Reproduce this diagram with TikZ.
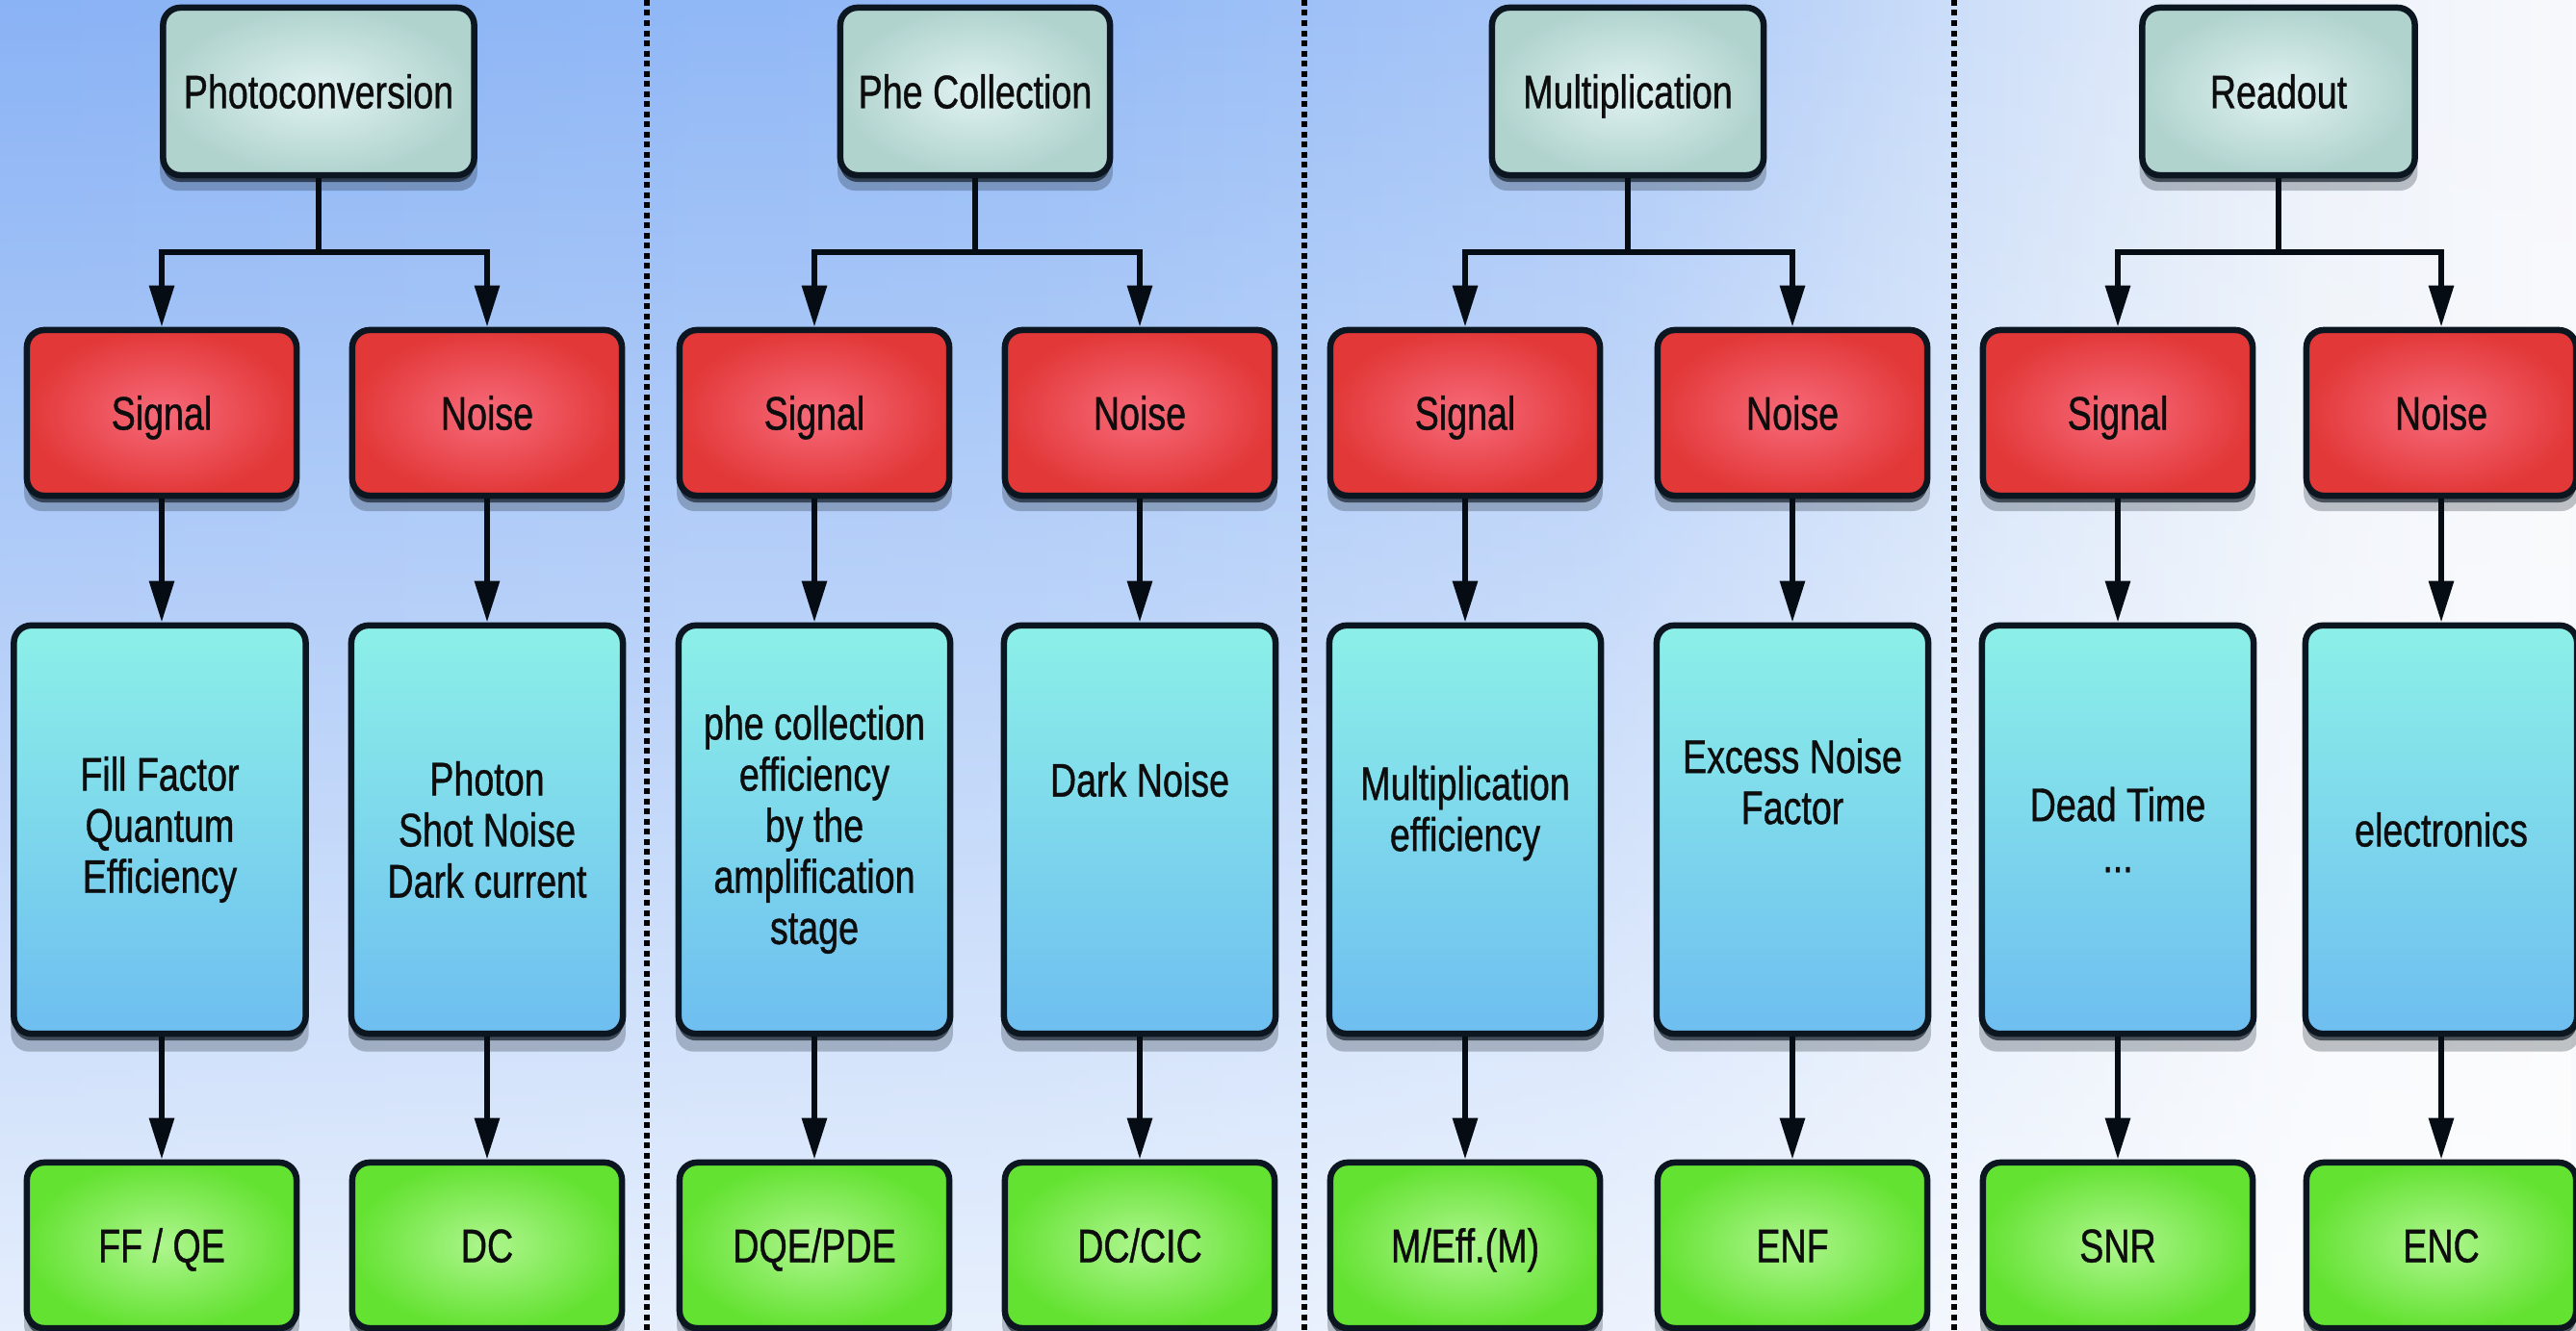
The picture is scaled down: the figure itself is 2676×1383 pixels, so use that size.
\documentclass[tikz,border=0pt]{standalone}
\usepackage{fontspec}
\newfontfamily\boxfont[FakeStretch=0.77,FakeBold=0.8]{Liberation Sans}
\usetikzlibrary{arrows.meta,shadows,fadings}
\definecolor{topin}{RGB}{224,242,242}
\definecolor{topout}{RGB}{176,211,206}
\definecolor{redin}{RGB}{247,106,122}
\definecolor{redout}{RGB}{226,56,56}
\definecolor{bluetop}{RGB}{140,240,232}
\definecolor{bluebot}{RGB}{110,190,240}
\definecolor{greenin}{RGB}{174,246,142}
\definecolor{greenout}{RGB}{100,226,50}
\definecolor{boxline}{RGB}{12,22,32}
\definecolor{linecol}{RGB}{5,12,20}
\pgfdeclarehorizontalshading{bgshade}{100bp}{rgb(0bp)=(0.54,0.70,0.96); rgb(25bp)=(0.54,0.70,0.96); rgb(45bp)=(0.58,0.73,0.965); rgb(56bp)=(0.66,0.78,0.97); rgb(63bp)=(0.80,0.87,0.975); rgb(70bp)=(0.93,0.95,0.98); rgb(75bp)=(0.97,0.975,0.99); rgb(100bp)=(0.97,0.975,0.99)}
\tikzfading[name=bgfade, top color=transparent!100, middle color=transparent!72, bottom color=transparent!22]
\begin{document}
\begin{tikzpicture}[x=0.01cm,y=-0.01cm,
  box/.style={rounded corners=0.18cm, draw=boxline, line width=0.065cm, inner sep=0pt, align=center,
    font=\boxfont\fontsize{13.9pt}{15.1pt}\selectfont, text=black!95,
    drop shadow={shadow xshift=0cm, shadow yshift=-0.14cm, shadow scale=1.02, opacity=0.25, fill=boxline},
    drop shadow={shadow xshift=0cm, shadow yshift=-0.07cm, opacity=0.65, fill=boxline}},
  one/.style={text height=0.45cm, text depth=0.10cm},
  topbox/.style={box, one, minimum height=1.74cm, inner color=topin, outer color=topout},
  sigbox/.style={box, one, minimum width=2.80cm, minimum height=1.72cm, inner color=redin, outer color=redout},
  infobox/.style={box, minimum width=2.82cm, minimum height=4.24cm, top color=bluetop, bottom color=bluebot},
  resbox/.style={box, one, minimum width=2.80cm, minimum height=1.72cm, inner color=greenin, outer color=greenout},
  wire/.style={draw=linecol, line width=0.06cm},
  conn/.style={wire, -{Triangle[length=0.43cm,width=0.25cm]}},
  sepline/.style={draw=black, line width=0.06cm, dash pattern=on 0.06cm off 0.045cm}]
\useasboundingbox (0,0) rectangle (2676,1383);
\shade[shading=bgshade] (0,0) rectangle (2676,1383);
\fill[white, path fading=bgfade] (0,0) rectangle (2676,1383);

% separators
\foreach \x [count=\i] in {672,1355,2030} {
  \coordinate (sepT\i) at (\x,0);
  \coordinate (sepB\i) at (\x,1383);
  \draw[sepline] (sepT\i) -- (sepB\i);
}

% column 1
\node[topbox, minimum width=3.23cm] (t0) at (331,95) {Photoconversion};
\node[sigbox] (s0) at (168,429) {Signal};
\node[sigbox] (n0) at (506,429) {Noise};
\node[infobox, minimum width=3.03cm] (a0) at (166,862) {Fill Factor\\Quantum\\Efficiency};
\node[infobox] (b0) at (506,862) {Photon\\Shot Noise\\Dark current};
\node[resbox] (g0) at (168,1294) {FF / QE};
\node[resbox] (h0) at (506,1294) {DC};
\coordinate (k0) at (331,262);

% column 2
\node[topbox, minimum width=2.80cm] (t1) at (1013,95) {Phe Collection};
\node[sigbox] (s1) at (846,429) {Signal};
\node[sigbox] (n1) at (1184,429) {Noise};
\node[infobox] (a1) at (846,862) {phe collection\\efficiency\\by the\\amplification\\stage};
\node[infobox] (b1) at (1184,862) {Dark Noise\\[0.51cm]\mbox{}};
\node[resbox] (g1) at (846,1294) {DQE/PDE};
\node[resbox] (h1) at (1184,1294) {DC/CIC};
\coordinate (k1) at (1013,262);

% column 3
\node[topbox, minimum width=2.82cm] (t2) at (1691,95) {Multiplication};
\node[sigbox] (s2) at (1522,429) {Signal};
\node[sigbox] (n2) at (1862,429) {Noise};
\node[infobox] (a2) at (1522,862) {Multiplication\\efficiency\\[-0.09cm]\mbox{}};
\node[infobox] (b2) at (1862,862) {Excess Noise\\Factor\\[0.47cm]\mbox{}};
\node[resbox] (g2) at (1522,1294) {M/Eff.(M)};
\node[resbox] (h2) at (1862,1294) {ENF};
\coordinate (k2) at (1691,262);

% column 4
\node[topbox, minimum width=2.83cm] (t3) at (2367,95) {Readout};
\node[sigbox] (s3) at (2200,429) {Signal};
\node[sigbox] (n3) at (2536,429) {Noise};
\node[infobox] (a3) at (2200,862) {Dead Time\\...};
\node[infobox, one] (b3) at (2536,862) {electronics};
\node[resbox] (g3) at (2200,1294) {SNR};
\node[resbox] (h3) at (2536,1294) {ENC};
\coordinate (k3) at (2367,262);

% connectors
\foreach \c in {0,1,2,3} {
  \draw[wire] (t\c.south) -- (k\c);
  \draw[conn] (k\c) -| (s\c.north);
  \draw[conn] (k\c) -| (n\c.north);
  \draw[conn] (s\c.south) -- (s\c.south |- a\c.north);
  \draw[conn] (n\c.south) -- (n\c.south |- b\c.north);
  \draw[conn] (g\c.north |- a\c.south) -- (g\c.north);
  \draw[conn] (h\c.north |- b\c.south) -- (h\c.north);
}
\end{tikzpicture}
\end{document}
